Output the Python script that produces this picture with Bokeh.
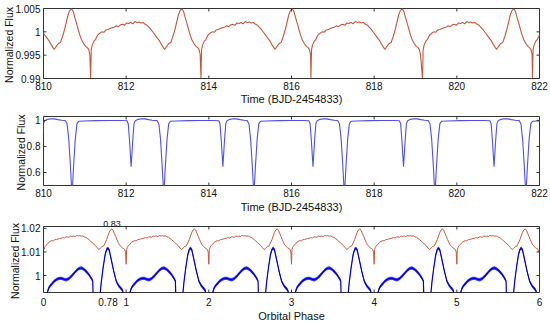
import math
from bokeh.plotting import figure
from bokeh.layouts import column
from bokeh.models import FixedTicker, Range1d, LinearAxis
from bokeh.embed import file_html
from bokeh.resources import INLINE

# ---------------- data ----------------
# Panel 1: heartbeat light curve, one cycle template (days after the dip, flux)
RED_D = [0.00, 0.015, 0.04, 0.08, 0.12, 0.17, 0.22, 0.27, 0.32, 0.37, 0.42, 0.47,
         0.52, 0.57, 0.62, 0.67, 0.72, 0.77, 0.82, 0.87, 0.92, 0.97, 1.02, 1.07,
         1.12, 1.17, 1.22, 1.27, 1.32, 1.37, 1.42, 1.47, 1.52, 1.57, 1.62, 1.67,
         1.72, 1.79, 1.84, 1.89, 1.94, 1.99, 2.04, 2.08, 2.12, 2.16, 2.21, 2.25,
         2.29, 2.33, 2.37, 2.41, 2.45, 2.50, 2.55, 2.59, 2.62, 2.65]
RED_F = [0.9900, 0.9962, 0.9972, 0.9980, 0.9984, 0.9993, 0.9997, 1.0000, 0.9999, 1.0004, 1.0005, 1.0007,
         1.0009, 1.0010, 1.0013, 1.0011, 1.0015, 1.0016, 1.0014, 1.0019, 1.0018, 1.0020, 1.0017, 1.0022,
         1.0020, 1.0021, 1.0019, 1.0020, 1.0016, 1.0014, 1.0009, 1.0004, 0.9998, 0.9992, 0.9986, 0.9980,
         0.9972, 0.9962, 0.9969, 0.9975, 0.9977, 0.9990, 1.0005, 1.0020, 1.0035, 1.0045, 1.0050, 1.0043,
         1.0030, 1.0018, 1.0005, 0.9993, 0.9983, 0.9975, 0.9969, 0.9966, 0.9963, 0.9952]
RED_DIP_EPOCHS = [808.47, 811.14, 813.81, 816.47, 819.17, 821.83]

# Panel 2: eclipsing binary, one cycle template (days after primary eclipse, flux)
EB_D = [-0.16, -0.12, -0.08, -0.04, 0.00, 0.04, 0.08, 0.12, 0.16, 0.30, 0.60, 0.90,
        1.20, 1.33, 1.36, 1.39, 1.43, 1.47, 1.50, 1.53, 1.60, 1.68, 1.76, 1.85, 1.94, 2.00]
EB_F = [0.998, 0.975, 0.86, 0.66, 0.42, 0.66, 0.86, 0.975, 0.993, 0.996, 0.998, 0.999,
        0.999, 0.997, 0.975, 0.85, 0.645, 0.85, 0.975, 0.998, 1.008, 1.013, 1.012, 1.006, 1.001, 0.999]
EB_PRIMARY_EPOCHS = [808.50, 810.69, 812.91, 815.09, 817.28, 819.47, 821.67]

# Panel 3: phase-folded curves
RED_PERIOD = 2.67
RED_OFFSET = 0.0148
CYCLES = [0, 1, 2, 3, 4, 5]
BLUE_A_PH = [0.045, 0.06, 0.08, 0.10, 0.13, 0.16, 0.19, 0.22, 0.25, 0.28, 0.31, 0.34,
             0.37, 0.40, 0.43, 0.46, 0.49, 0.52, 0.55, 0.575, 0.595, 0.600]
BLUE_A_F = [0.9925, 0.9945, 0.9956, 0.9964, 0.9976, 0.9984, 0.9988, 0.9988, 0.9984, 0.9982, 0.9988, 0.9998,
            1.0010, 1.0022, 1.0030, 1.0032, 1.0026, 1.0016, 1.0004, 0.9990, 0.9978, 0.9920]
BLUE_B_PH = [0.685, 0.70, 0.72, 0.745, 0.765, 0.78, 0.795, 0.82, 0.85, 0.88, 0.91, 0.94, 0.955, 0.965]
BLUE_B_F = [0.9920, 0.9975, 1.0030, 1.0088, 1.0112, 1.0116, 1.0108, 1.0067, 1.0018, 0.9976, 0.9956,
            0.9944, 0.9938, 0.9922]
BLUE_SCATTER = 0.0007

TIME_TICKS = [810, 812, 814, 816, 818, 820, 822]
TIME_LABELS = ["810", "812", "814", "816", "818", "820", "822"]
FLUX1_TICKS = [0.99, 0.995, 1.0, 1.005]
FLUX1_LABELS = ["0.99", "0.995", "1", "1.005"]
FLUX2_TICKS = [0.6, 0.8, 1.0]
FLUX2_LABELS = ["0.6", "0.8", "1"]
PHASE_TICKS = [0, 1, 2, 3, 4, 5, 6]
PHASE_LABELS = ["0", "1", "2", "3", "4", "5", "6"]
PHASE_MARK_BOTTOM = [0.78]
PHASE_MARK_BOTTOM_LABELS = ["0.78"]
PHASE_MARK_TOP = [0.83]
PHASE_MARK_TOP_LABELS = ["0.83"]
FLUX3_TICKS = [1.0, 1.01, 1.02]
FLUX3_LABELS = ["1", "1.01", "1.02"]

FONT = "Liberation Sans"
RED = "#c4583f"
BLUE2 = "#5050e6"
AX = "#333333"
TXT = "#111111"

W = 548
BL, BR = 42, 9


def label_axis(p, loc, ticks, labels, size="10px", standoff=3, title=None, title_standoff=0):
    ax = LinearAxis()
    ax.ticker = FixedTicker(ticks=ticks)
    ax.major_label_overrides = {t: s for t, s in zip(ticks, labels)}
    ax.major_tick_in = 0
    ax.major_tick_out = 0
    ax.minor_tick_in = 0
    ax.minor_tick_out = 0
    ax.axis_line_color = None
    ax.major_label_text_font = FONT
    ax.major_label_text_font_size = size
    ax.major_label_text_color = TXT
    ax.major_label_standoff = standoff
    if title is not None:
        ax.axis_label = title
        ax.axis_label_text_font = FONT
        ax.axis_label_text_font_style = "normal"
        ax.axis_label_text_color = TXT
        ax.axis_label_text_font_size = "10.5px" if loc == "left" else "11px"
        ax.axis_label_standoff = title_standoff
    p.add_layout(ax, loc)
    return ax


def tick_marks(p, xticks, yticks, xr, yr):
    # inward tick marks on all four sides (half of each dash is clipped by the frame)
    n, m = len(xticks), len(yticks)
    p.scatter(xticks + xticks, [yr[0]] * n + [yr[1]] * n, marker="dash", size=6,
              angle=math.pi / 2, line_color=AX, line_width=1)
    p.scatter([xr[0]] * m + [xr[1]] * m, yticks + yticks, marker="dash", size=6,
              line_color=AX, line_width=1)


def make_fig(h, top, bottom, xr, yr):
    p = figure(width=W, height=h, x_range=Range1d(*xr), y_range=Range1d(*yr),
               output_backend="svg", toolbar_location=None,
               x_axis_location=None, y_axis_location=None,
               min_border_left=BL, min_border_right=BR,
               min_border_top=top, min_border_bottom=bottom)
    p.grid.visible = False
    p.outline_line_color = AX
    p.outline_line_width = 1
    p.background_fill_color = "white"
    p.border_fill_color = "white"
    return p


# ---------------- panel 1 ----------------
X1, Y1 = (810, 822), (0.99, 1.005)
t1, f1 = [], []
for e in RED_DIP_EPOCHS:
    for d, f in zip(RED_D, RED_F):
        t1.append(e + d)
        f1.append(f)

p1 = make_fig(111, 8, 33, X1, Y1)
label_axis(p1, "below", TIME_TICKS, TIME_LABELS, title="Time (BJD-2454833)")
label_axis(p1, "left", FLUX1_TICKS, FLUX1_LABELS, title="Normalized  Flux", title_standoff=-3)
p1.line(t1, f1, line_color=RED, line_width=1.1)
tick_marks(p1, TIME_TICKS, FLUX1_TICKS, X1, Y1)

# ---------------- panel 2 ----------------
X2, Y2 = (810, 822), (0.5, 1.03)
t2, f2 = [], []
for e in EB_PRIMARY_EPOCHS:
    for d, f in zip(EB_D, EB_F):
        t2.append(e + d)
        f2.append(f)

p2 = make_fig(104, 5, 30, X2, Y2)
label_axis(p2, "below", TIME_TICKS, TIME_LABELS, title="Time (BJD-2454833)", title_standoff=1)
label_axis(p2, "left", FLUX2_TICKS, FLUX2_LABELS, title="Normalized  Flux", title_standoff=-3)
p2.line(t2, f2, line_color=BLUE2, line_width=1.1)
tick_marks(p2, TIME_TICKS, FLUX2_TICKS, X2, Y2)

# ---------------- panel 3 ----------------
X3, Y3 = (0, 6), (0.9928, 1.0208)
p3 = make_fig(109, 11, 31, X3, Y3)
bt = sorted(PHASE_TICKS + PHASE_MARK_BOTTOM)
lookup = dict(zip(PHASE_TICKS + PHASE_MARK_BOTTOM, PHASE_LABELS + PHASE_MARK_BOTTOM_LABELS))
bl = [lookup[t] for t in bt]
label_axis(p3, "below", bt, bl, standoff=5, title="Orbital Phase", title_standoff=1)
label_axis(p3, "above", PHASE_MARK_TOP, PHASE_MARK_TOP_LABELS, size="9px", standoff=0)
label_axis(p3, "left", FLUX3_TICKS, FLUX3_LABELS, title="Normalized  Flux", title_standoff=-3)

ph_r, f_r = [], []
for k in CYCLES:
    for i, (d, f) in enumerate(zip(RED_D, RED_F)):
        if k == 0 and i == 0:
            continue
        ph_r.append(k + d / RED_PERIOD)
        f_r.append(f + RED_OFFSET)
p3.line(ph_r, f_r, line_color=RED, line_width=1.0)

for k in CYCLES:
    for phs, fs in ((BLUE_A_PH, BLUE_A_F), (BLUE_B_PH, BLUE_B_F)):
        xs = [k + v for v in phs]
        p3.varea(x=xs, y1=[v - BLUE_SCATTER for v in fs], y2=[v + BLUE_SCATTER for v in fs],
                 fill_color="#1a1aff", fill_alpha=0.85)
        p3.line(xs, fs, line_color="#0000c8", line_width=1.2)
tick_marks(p3, PHASE_TICKS, FLUX3_TICKS, X3, Y3)

layout = column(p1, p2, p3)
open("out.html", "w").write(file_html(layout, INLINE))
